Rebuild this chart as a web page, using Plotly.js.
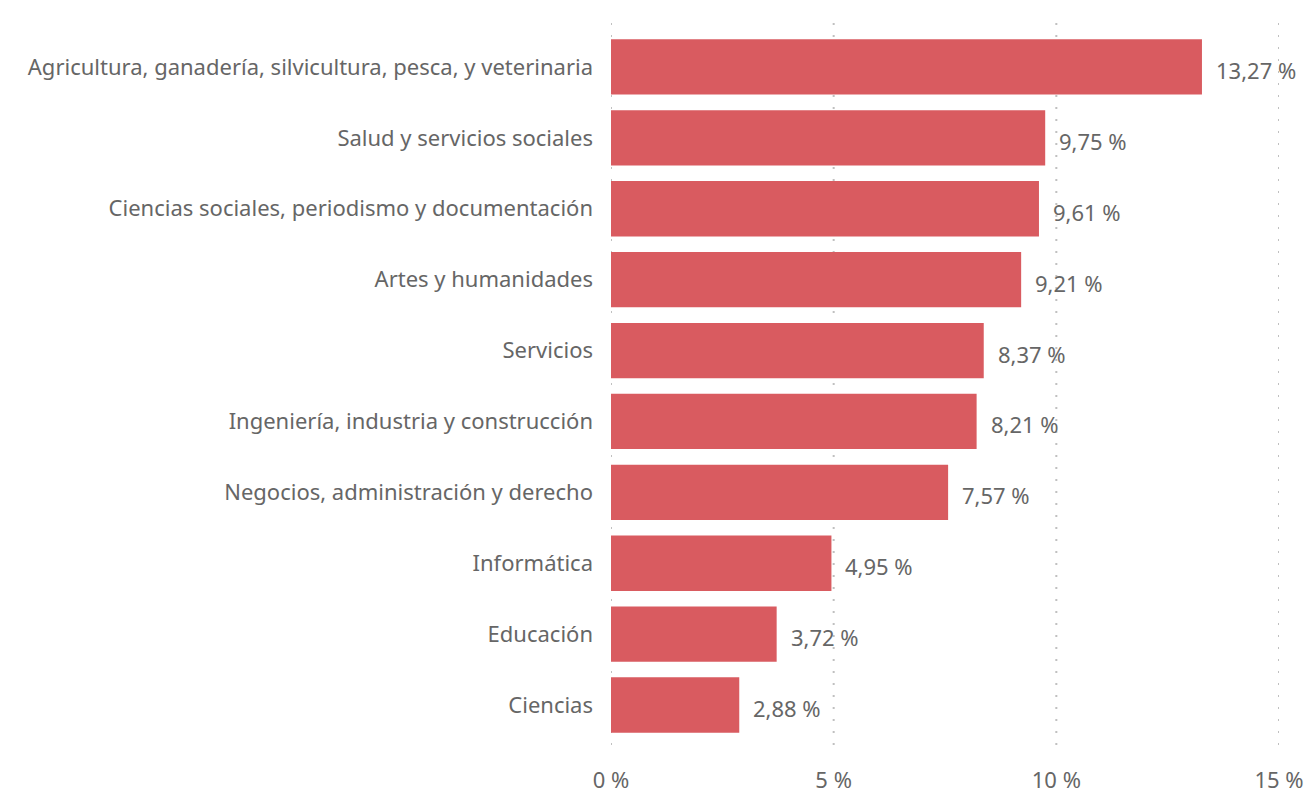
<!DOCTYPE html>
<html><head><meta charset="utf-8">
<script src="https://cdn.plot.ly/plotly-3.0.1.min.js"></script>
<style>html,body{margin:0;padding:0;background:#fff}#chart{width:1306px;height:793px}</style>
</head><body><div id="chart"></div>
<script>
const categories = [
  "Agricultura, ganadería, silvicultura, pesca, y veterinaria",
  "Salud y servicios sociales",
  "Ciencias sociales, periodismo y documentación",
  "Artes y humanidades",
  "Servicios",
  "Ingeniería, industria y construcción",
  "Negocios, administración y derecho",
  "Informática",
  "Educación",
  "Ciencias"
];
const values = [13.27, 9.75, 9.61, 9.21, 8.37, 8.21, 7.57, 4.95, 3.72, 2.88];
const tickValues = [0, 5, 10, 15];
const tickLabels = ["0 %", "5 %", "10 %", "15 %"];

const cats = categories.slice().reverse();
const vals = values.slice().reverse();
const fmt = v => v.toFixed(2).replace('.', ',') + ' %';
const font = "Noto Sans, Open Sans, sans-serif";
const txt = '#666666';

const trace = {
  type: 'bar', orientation: 'h', x: vals, y: cats,
  marker: {color: '#D95B60'}, hoverinfo: 'skip'
};
const annotations = vals.map((v, i) => ({
  x: v, y: cats[i], xref: 'x', yref: 'y', text: fmt(v), showarrow: false,
  xanchor: 'left', xshift: 12, yshift: -3, font: {family: font, size: 22, color: txt}
}));
const shapes = tickValues.map(t => ({
  type: 'line', xref: 'x', yref: 'paper', x0: t, x1: t, y0: 0, y1: 1,
  layer: 'below', line: {color: '#C0C0C0', width: 2, dash: '2px,10px'}
}));
const layout = {
  width: 1306, height: 793,
  margin: {l: 611, r: 27, t: 15, b: 48},
  paper_bgcolor: '#fff', plot_bgcolor: '#fff',
  bargap: 0.22, showlegend: false,
  font: {family: font, size: 22, color: txt},
  xaxis: {range: [0, 15], tickvals: tickValues, ticktext: tickLabels,
    showgrid: false, zeroline: false, showline: false, ticks: '', ticklabelstandoff: 20,
    tickfont: {family: font, size: 22, color: txt}},
  yaxis: {type: 'category', range: [-0.564, 9.733], showgrid: false, zeroline: false,
    showline: false, ticks: '', ticklabelstandoff: 17,
    tickfont: {family: font, size: 22, color: txt}},
  shapes: shapes,
  annotations: annotations
};
Plotly.newPlot('chart', [trace], layout, {displayModeBar: false, staticPlot: true});
</script></body></html>
